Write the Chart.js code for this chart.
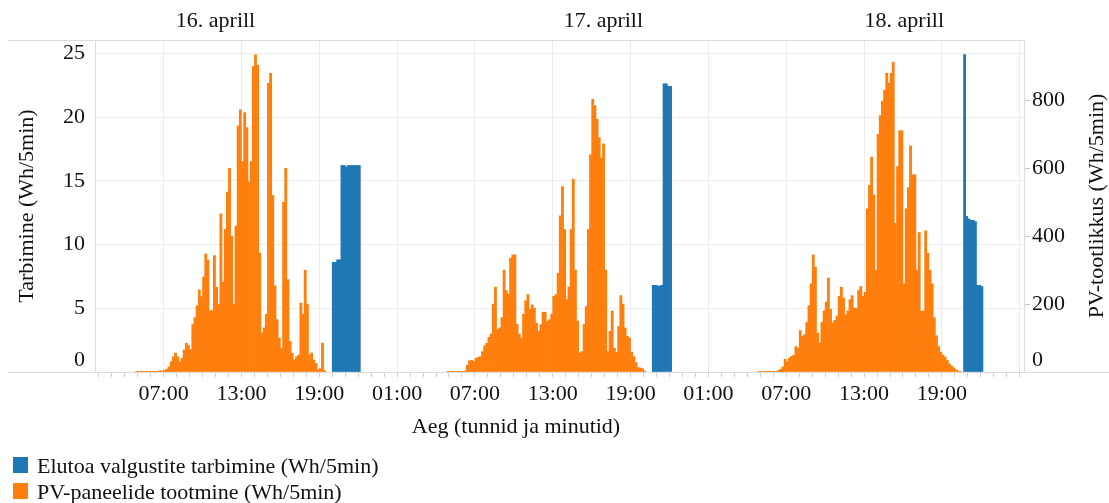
<!DOCTYPE html>
<html>
<head>
<meta charset="utf-8">
<script src="https://cdn.jsdelivr.net/npm/chart.js@4.4.1/dist/chart.umd.min.js"></script>
<style>
  html, body { margin: 0; padding: 0; background: #fff; }
</style>
</head>
<body>
<canvas id="chart" width="1109" height="503"></canvas>
<script>
// Days shown on the top axis (label position in hours from 16.04 00:00)
const dayLabels = ['16. aprill', '17. aprill', '18. aprill'];
const dayLabelHours = [11.0, 40.9, 64.1];

// Time axis: visible range (hours from 16.04 00:00) and labelled ticks
const timeMin = 1.71;
const timeMax = 73.33;
const timeTickHours = [7, 13, 19, 25, 31, 37, 43, 49, 55, 61, 67, 73];
const timeTickLabels = ['07:00', '13:00', '19:00', '01:00', '07:00', '13:00', '19:00', '01:00', '07:00', '13:00', '19:00', ''];

// Value axes ticks
const leftTicks = [0, 5, 10, 15, 20, 25];
const rightTicks = [0, 200, 400, 600, 800];

// PV production, Wh per bin, 10 minute bins starting at pvStart each day
const pvStart = ['04:50', '04:50', '04:50'];
const pv16 = [
  1, 1, 1, 1, 1, 1, 1, 1, 1, 1, 2, 4, 3,
  5, 8, 15, 30, 45, 56,
  45, 30, 40, 65, 85, 78,
  66, 140, 160, 195, 242, 222,
  280, 348, 330, 180, 182, 343,
  250, 200, 466, 265, 420, 530,
  600, 400, 200, 430, 725, 772,
  620, 764, 720, 560, 620, 900,
  934, 904, 350, 115, 130, 170,
  850, 880, 520, 254, 154, 100,
  69, 500, 600, 272, 90, 55,
  36, 45, 50, 203, 170, 300,
  200, 50, 56, 35, 25, 7,
  10, 85, 4
];
const pv17 = [
  1, 1, 1, 1, 1, 1, 1, 1, 3, 20, 33, 34, 31,
  40, 43, 45, 60, 77, 85,
  102, 112, 200, 250, 125, 130,
  160, 300, 240, 230, 335, 345,
  345, 140, 112, 100, 170, 210,
  228, 185, 198, 188, 144, 120,
  140, 176, 176, 149, 154, 170,
  223, 228, 291, 460, 546, 420,
  213, 250, 420, 568, 300, 150,
  56, 60, 140, 193, 420, 640,
  803, 785, 745, 690, 630, 672,
  300, 60, 120, 180, 70, 58,
  134, 225, 200, 130, 105, 100,
  58, 45, 28, 13, 12, 10,
  3
];
const pv18 = [
  1, 1, 1, 1, 1, 1, 1, 1, 2, 5, 8, 15, 38,
  30, 41, 46, 50, 75, 70,
  122, 105, 110, 146, 195, 260,
  345, 309, 115, 85, 146, 180,
  206, 277, 185, 145, 152, 165,
  223, 250, 218, 168, 180, 213,
  225, 188, 188, 240, 252, 223,
  235, 481, 550, 633, 522, 300,
  700, 755, 797, 830, 880, 851,
  880, 913, 438, 605, 711, 711,
  260, 481, 543, 666, 581, 581,
  300, 411, 179, 180, 416, 350,
  300, 260, 160, 107, 75, 58,
  50, 44, 34, 24, 17, 12,
  7, 3, 1
];

// Living room lamp consumption, Wh per bin, 10 minute bins starting at lampStart
const lampStart = ['20:00', '20:40', '20:40'];
const lamp16 = [8.6, 8.6, 8.8, 8.8, 16.2, 16.2, 16.1, 16.2, 16.2, 16.2, 16.2, 16.2, 16.2];
const lamp17 = [6.8, 6.8, 6.75, 6.75, 6.8, 22.6, 22.6, 22.4, 22.4];
const lamp18 = [24.9, 12.2, 12.0, 11.9, 11.9, 11.8, 6.8, 6.8, 6.7];

const FONT = '"Liberation Serif", "Times New Roman", serif';
const TEXT = '#111';
const GRID = '#ececec';
const FRAME = '#dcdcdc';
const BLUE = '#1f77b4';
const ORANGE = '#ff7f0e';

const xTitle = 'Aeg (tunnid ja minutid)';
const yTitle = 'Tarbimine (Wh/5min)';
const y2Title = 'PV-tootlikkus (Wh/5min)';

// turn per-day bins into {x, y} points, x = bin centre in hours
function toPoints(days, starts) {
  const points = [];
  days.forEach((values, d) => {
    const [hh, mm] = starts[d].split(':').map(Number);
    const startMin = d * 1440 + hh * 60 + mm;
    values.forEach((v, i) => {
      points.push({ x: (startMin + i * 10 + 5) / 60, y: v });
    });
  });
  return points;
}

const lampPoints = toPoints([lamp16, lamp17, lamp18], lampStart);
const pvPoints = toPoints([pv16, pv17, pv18], pvStart);

const majorHour = v => timeTickHours.includes(v);

// axis titles, legend and the frame lines that run past the plot
const extras = {
  id: 'extras',
  afterDraw(chart) {
    const { ctx, chartArea: a } = chart;
    ctx.save();
    ctx.strokeStyle = FRAME;
    ctx.lineWidth = 1;
    ctx.beginPath();
    ctx.moveTo(8, a.top + 0.5); ctx.lineTo(a.left, a.top + 0.5);
    ctx.moveTo(8, a.bottom + 0.5); ctx.lineTo(a.left, a.bottom + 0.5);
    ctx.moveTo(a.right, a.bottom + 0.5); ctx.lineTo(chart.width, a.bottom + 0.5);
    ctx.stroke();

    ctx.fillStyle = TEXT;
    ctx.font = '22px ' + FONT;
    ctx.textAlign = 'center';
    ctx.textBaseline = 'alphabetic';
    ctx.fillText(xTitle, (8 + a.right) / 2, 433);

    const midY = (a.top + a.bottom) / 2;
    [[33, yTitle], [1103, y2Title]].forEach(([x, t]) => {
      ctx.save();
      ctx.translate(x, midY);
      ctx.rotate(-Math.PI / 2);
      ctx.fillText(t, 0, 0);
      ctx.restore();
    });

    ctx.textAlign = 'left';
    chart.data.datasets.forEach((ds, i) => {
      const top = 457 + i * 26;
      ctx.fillStyle = ds.backgroundColor;
      ctx.fillRect(13, top, 15, 16);
      ctx.fillStyle = TEXT;
      ctx.fillText(ds.label, 37, top + 15.5);
    });
    ctx.restore();
  }
};

const zeroUp = v => (v === 0 ? ['0', ''] : String(v));
const tickFont = { size: 22, lineHeight: 1.05 };

new Chart(document.getElementById('chart'), {
  type: 'bar',
  data: {
    datasets: [
      {
        label: 'Elutoa valgustite tarbimine (Wh/5min)',
        data: lampPoints,
        backgroundColor: BLUE,
        xAxisID: 'x',
        yAxisID: 'y',
        grouped: false,
        barPercentage: 1,
        categoryPercentage: 1,
        borderWidth: 0
      },
      {
        label: 'PV-paneelide tootmine (Wh/5min)',
        data: pvPoints,
        backgroundColor: ORANGE,
        xAxisID: 'x',
        yAxisID: 'y2',
        grouped: false,
        barPercentage: 1,
        categoryPercentage: 1,
        borderWidth: 0
      }
    ]
  },
  options: {
    responsive: false,
    animation: false,
    layout: { padding: 0 },
    font: { family: FONT },
    plugins: {
      legend: { display: false },
      tooltip: { enabled: false }
    },
    scales: {
      x: {
        type: 'linear',
        position: 'bottom',
        min: timeMin,
        max: timeMax,
        offset: false,
        afterBuildTicks(scale) {
          const ticks = [];
          for (let h = Math.ceil(timeMin); h <= Math.floor(timeMax); h++) ticks.push({ value: h });
          scale.ticks = ticks;
        },
        afterFit(scale) { scale.height = 131; },
        grid: {
          offset: false,
          color: ctx => (ctx.tick && majorHour(ctx.tick.value) ? GRID : 'rgba(0,0,0,0)'),
          tickColor: '#cfcfcf',
          tickLength: 5
        },
        border: { color: FRAME },
        ticks: {
          autoSkip: false,
          maxRotation: 0,
          minRotation: 0,
          padding: 6,
          color: TEXT,
          font: Object.assign({ family: FONT }, tickFont),
          callback: v => {
            const i = timeTickHours.indexOf(v);
            return i >= 0 ? timeTickLabels[i] : '';
          }
        }
      },
      x2: {
        type: 'linear',
        position: 'top',
        min: timeMin,
        max: timeMax,
        offset: false,
        afterBuildTicks(scale) { scale.ticks = dayLabelHours.map(v => ({ value: v })); },
        afterFit(scale) { scale.height = 40; },
        grid: { offset: false, drawOnChartArea: false, drawTicks: false },
        border: { color: FRAME },
        ticks: {
          autoSkip: false,
          maxRotation: 0,
          minRotation: 0,
          padding: 7.5,
          color: TEXT,
          font: Object.assign({ family: FONT }, tickFont),
          callback: (v, i) => dayLabels[i]
        }
      },
      y: {
        position: 'left',
        min: 0,
        max: 26.04,
        afterBuildTicks(scale) { scale.ticks = leftTicks.map(v => ({ value: v })); },
        afterFit(scale) { scale.width = 95; },
        grid: { color: GRID, drawTicks: false },
        border: { color: FRAME },
        ticks: {
          padding: 10,
          color: TEXT,
          font: Object.assign({ family: FONT }, tickFont),
          callback: zeroUp
        }
      },
      y2: {
        position: 'right',
        min: 0,
        max: 978,
        afterBuildTicks(scale) { scale.ticks = rightTicks.map(v => ({ value: v })); },
        afterFit(scale) { scale.width = 85; },
        grid: { drawOnChartArea: false, drawTicks: true, tickLength: 6, tickColor: '#c8c8c8' },
        border: { color: FRAME },
        ticks: {
          padding: 2,
          color: TEXT,
          font: Object.assign({ family: FONT }, tickFont),
          callback: zeroUp
        }
      }
    }
  },
  plugins: [extras]
});
</script>
</body>
</html>
